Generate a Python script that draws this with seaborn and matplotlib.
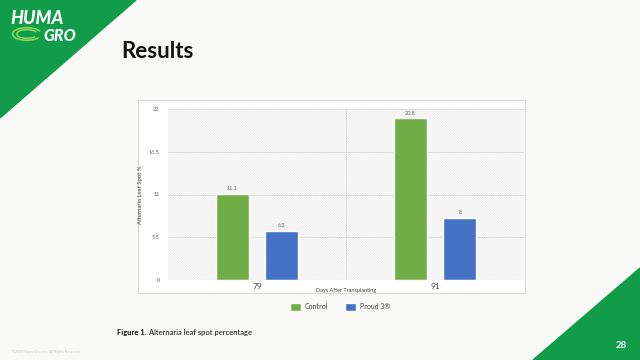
#!/usr/bin/env python3

import seaborn as sns
import pandas as pd
import matplotlib.pyplot as plt
from matplotlib.patches import Polygon, Rectangle, Arc
from matplotlib.ticker import FormatStrFormatter

# data
days = ["79", "79", "91", "91"]
treatment = ["Control", "Proud 3®", "Control", "Proud 3®"]
leaf_spot = [11.1, 6.3, 20.8, 8.0]
y_ticks = [0, 5.5, 11, 16.5, 22]

GREEN = "#70ad47"
BLUE = "#4472c4"
SLIDE_GREEN = "#109c48"
GRID = "#d9d9d9"

sns.set_style("white")
plt.rcParams["font.family"] = ["Lato", "DejaVu Sans"]
plt.rcParams["hatch.linewidth"] = 0.35
plt.rcParams["hatch.color"] = "#e0e0e0"

W, H = 640, 360


def px(x, y):
    # pixel position (from top left) -> figure fraction
    return (x / W, 1 - y / H)


fig = plt.figure(figsize=(6.4, 3.6), dpi=100)
fig.patch.set_facecolor("#f9f9f8")

# slide decoration
fig.patches.append(Polygon([px(0, 0), px(136, 0), px(0, 118)], closed=True,
                           transform=fig.transFigure, color=SLIDE_GREEN, zorder=0))
fig.patches.append(Polygon([px(640, 268), px(533, 360), px(640, 360)], closed=True,
                           transform=fig.transFigure, color=SLIDE_GREEN, zorder=0))
fig.text(*px(10, 19), "HUMA", color="white", fontsize=13, fontweight="black",
         style="italic", va="center", ha="left")
fig.text(*px(43, 36), "GRO", color="white", fontsize=11.5, fontweight="black",
         style="italic", va="center", ha="left")
for w, h in [(0.045, 0.035), (0.032, 0.024)]:
    fig.patches.append(Arc(px(27, 34), w, h, theta1=20, theta2=330,
                           transform=fig.transFigure, color="#8dd15a", lw=1.2))
fig.text(*px(121, 51), "Results", fontsize=16, fontweight="bold", color="#111111",
         va="center", ha="left")
fig.text(*px(621, 345), "28", fontsize=7, fontweight="bold", color="white",
         va="center", ha="center")
fig.text(*px(12, 352), "©2020 Huma Gro, Inc. All Rights Reserved", fontsize=2.6,
         color="#c4c4c4", va="center", ha="left")

# chart frame
x0, y0 = px(138, 293)
x1, y1 = px(525, 100)
fig.patches.append(Rectangle((x0, y0), x1 - x0, y1 - y0, transform=fig.transFigure,
                             facecolor="white", edgecolor=GRID, lw=0.8, zorder=0.5))

ax_l, ax_b = px(168, 280)
ax_r, ax_t = px(524, 109)
ax = fig.add_axes([ax_l, ax_b, ax_r - ax_l, ax_t - ax_b])
ax.set_zorder(2)
ax.patch.set_alpha(0)

df = pd.DataFrame({"days": days, "treatment": treatment, "leaf_spot": leaf_spot})
sns.barplot(data=df, x="days", y="leaf_spot", hue="treatment", ax=ax,
            palette=[GREEN, BLUE], width=0.56, gap=0.34, saturation=1, zorder=3)

# hatched plot area
ax.add_patch(Rectangle((0, 0), 1, 1, transform=ax.transAxes, facecolor="white",
                       edgecolor="#e0e0e0", hatch="\\" * 14, lw=0, zorder=0))

for c in ax.containers:
    ax.bar_label(c, fmt="%g", fontsize=4, color="#595959", padding=2)

ax.set_ylim(0, 22)
ax.set_yticks(y_ticks)
ax.yaxis.set_major_formatter(FormatStrFormatter("%g"))
ax.set_xlim(-0.5, 1.5)
for t in y_ticks[1:]:
    ax.axhline(t, color=GRID, lw=0.6, zorder=1)
ax.axvline(0.5, color=GRID, lw=0.6, zorder=1)
ax.axhline(0, color=GRID, lw=0.8, zorder=4)
sns.despine(ax=ax, left=True, bottom=True)

ax.tick_params(axis="y", labelsize=4, colors="#595959", length=0, pad=6)
ax.tick_params(axis="x", labelsize=6, colors="#404040", length=0, pad=2)

ax.set_ylabel("Alternaria Leaf Spot %", fontsize=4.3, color="#404040")
ax.yaxis.set_label_coords(-25 / 356, 0.5)
ax.set_xlabel("Days After Transplanting", fontsize=4, color="#404040")
ax.xaxis.set_label_coords(0.5, -8 / 171)

handles, labels = ax.get_legend_handles_labels()
ax.legend().remove()
fig.legend(handles, labels, loc="center", bbox_to_anchor=px(340, 307), ncol=2,
           frameon=False, fontsize=5, handlelength=1.6, handleheight=1.6,
           columnspacing=2.5, handletextpad=0.5, labelcolor="#404040")

# caption: bold lead-in then plain text
renderer = fig.canvas.get_renderer()
cap = fig.text(*px(117, 333), "Figure 1.", fontsize=5.5, fontweight="bold",
               color="#111111", va="center", ha="left")
bb = cap.get_window_extent(renderer=renderer)
fig.text(bb.x1 / fig.dpi / 6.4 + 0.004, px(0, 333)[1], "Alternaria leaf spot percentage",
         fontsize=5.5, color="#111111", va="center", ha="left")

fig.savefig("out.png", dpi=100, facecolor=fig.get_facecolor())
